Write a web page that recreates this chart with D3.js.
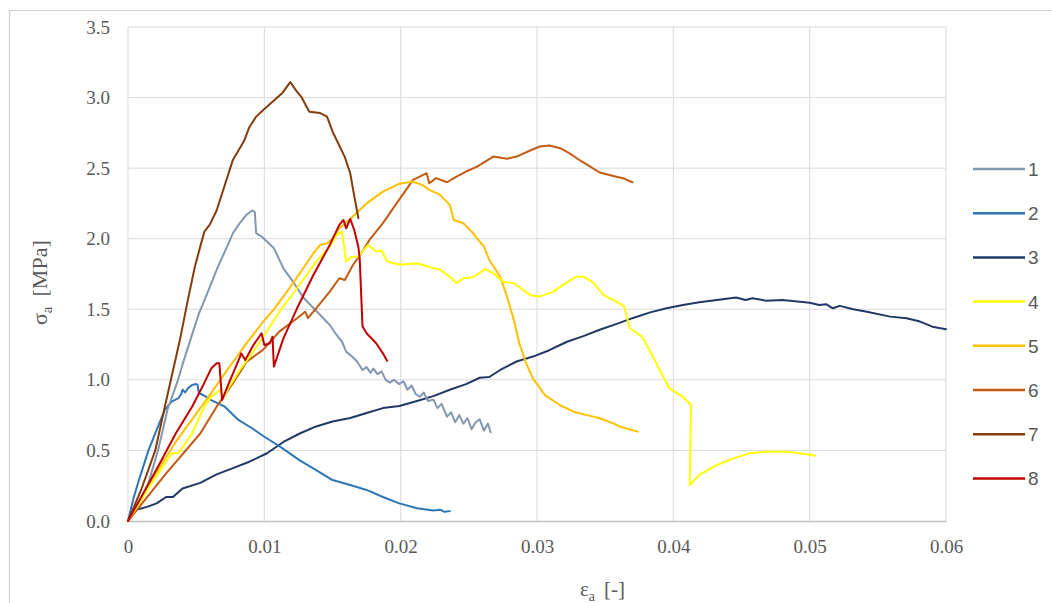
<!DOCTYPE html>
<html><head><meta charset="utf-8">
<script src="https://cdn.jsdelivr.net/npm/d3@7/dist/d3.min.js"></script>
<style>
html,body{margin:0;padding:0;background:#fff;}
svg{display:block;}
</style></head>
<body>
<svg id="chart" width="1052" height="603"></svg>
<script>
// ---- data (strain εa [-], stress σa [MPa]) ----
const seriesNames = ["1","2","3","4","5","6","7","8"];
const seriesColors = ["#8497B0","#2E75B6","#1F3864","#FFFF00","#FFC000","#C55A11","#843C0C","#C00000"];
const xTicks = [0,0.01,0.02,0.03,0.04,0.05,0.06];
const yTicks = [0,0.5,1.0,1.5,2.0,2.5,3.0,3.5];

const s1 = [[0,0],[0.0008,0.12],[0.0015,0.27],[0.0022,0.5],[0.0029,0.79],[0.0036,0.98],[0.0041,1.14],[0.0046,1.29],[0.0052,1.47],[0.0058,1.61],[0.0065,1.78],[0.0072,1.93],[0.0077,2.04],[0.0082,2.11],[0.0087,2.17],[0.0091,2.2],[0.0093,2.19],[0.0094,2.04],[0.0098,2.015],[0.0103,1.97],[0.0107,1.933],[0.0114,1.79],[0.0121,1.696],[0.0129,1.578],[0.0141,1.46],[0.0148,1.389],[0.0153,1.318],[0.0157,1.27],[0.016,1.2],[0.0165,1.16],[0.0168,1.13],[0.0172,1.07],[0.0175,1.09],[0.0178,1.05],[0.018,1.08],[0.0183,1.04],[0.0186,1.06],[0.0189,1.0],[0.0192,0.98],[0.0195,1.0],[0.0199,0.97],[0.0202,0.99],[0.0205,0.93],[0.0208,0.96],[0.0211,0.9],[0.0214,0.88],[0.0217,0.91],[0.022,0.85],[0.0224,0.86],[0.0227,0.8],[0.023,0.83],[0.0234,0.74],[0.0237,0.77],[0.024,0.7],[0.0243,0.75],[0.0246,0.69],[0.0249,0.73],[0.0252,0.65],[0.0255,0.7],[0.0258,0.72],[0.0261,0.64],[0.0264,0.69],[0.0266,0.63]];
const s2 = [[0,0],[0.0004,0.16],[0.0008,0.29],[0.0015,0.5],[0.0022,0.668],[0.0027,0.787],[0.0032,0.846],[0.0037,0.87],[0.0039,0.9],[0.004,0.93],[0.0042,0.91],[0.0044,0.94],[0.0047,0.964],[0.005,0.97],[0.0051,0.965],[0.0052,0.905],[0.0055,0.893],[0.0061,0.857],[0.0071,0.81],[0.0081,0.716],[0.0091,0.657],[0.01,0.597],[0.0111,0.53],[0.0126,0.43],[0.0138,0.36],[0.015,0.29],[0.0163,0.255],[0.0175,0.22],[0.0187,0.17],[0.0199,0.125],[0.0212,0.09],[0.0224,0.075],[0.0229,0.08],[0.0232,0.065],[0.0236,0.07]];
const s3 = [[0,0],[0.0006,0.08],[0.0014,0.1],[0.0021,0.125],[0.0028,0.17],[0.0033,0.17],[0.004,0.23],[0.0053,0.27],[0.0065,0.33],[0.0077,0.375],[0.0089,0.42],[0.0102,0.48],[0.0114,0.56],[0.0126,0.62],[0.0138,0.67],[0.015,0.705],[0.0163,0.73],[0.0175,0.765],[0.0187,0.8],[0.0199,0.815],[0.0212,0.85],[0.0224,0.885],[0.0236,0.93],[0.0248,0.97],[0.0258,1.015],[0.0265,1.02],[0.0273,1.07],[0.0285,1.13],[0.0297,1.165],[0.0309,1.21],[0.0322,1.27],[0.0334,1.31],[0.0346,1.355],[0.0358,1.395],[0.037,1.437],[0.0383,1.478],[0.0395,1.507],[0.0407,1.531],[0.0419,1.55],[0.0432,1.566],[0.0446,1.583],[0.0453,1.566],[0.0458,1.578],[0.0468,1.561],[0.048,1.566],[0.0493,1.554],[0.05,1.547],[0.0507,1.531],[0.0512,1.536],[0.0517,1.507],[0.0522,1.524],[0.0532,1.5],[0.0542,1.483],[0.0559,1.448],[0.0571,1.437],[0.0581,1.413],[0.059,1.377],[0.06,1.359]];
const s4 = [[0,0],[0.0008,0.12],[0.0016,0.25],[0.0028,0.42],[0.0032,0.48],[0.0037,0.48],[0.0047,0.62],[0.0056,0.81],[0.0061,0.88],[0.0066,0.916],[0.0068,0.93],[0.007,0.87],[0.0073,0.93],[0.0082,1.07],[0.0092,1.2],[0.0099,1.3],[0.0111,1.483],[0.0124,1.649],[0.0138,1.838],[0.0148,1.944],[0.0153,2.027],[0.0157,2.05],[0.016,1.838],[0.0164,1.873],[0.0169,1.873],[0.0176,1.956],[0.0182,1.91],[0.0186,1.916],[0.019,1.84],[0.0199,1.815],[0.0212,1.826],[0.0221,1.8],[0.0229,1.78],[0.0236,1.73],[0.0241,1.685],[0.0246,1.72],[0.0253,1.727],[0.0262,1.784],[0.0268,1.755],[0.0275,1.696],[0.0283,1.684],[0.0295,1.6],[0.0302,1.59],[0.0312,1.625],[0.0319,1.673],[0.0329,1.731],[0.0334,1.731],[0.0341,1.69],[0.0349,1.6],[0.0358,1.554],[0.0364,1.52],[0.0368,1.366],[0.0377,1.306],[0.0382,1.22],[0.039,1.07],[0.0397,0.94],[0.0407,0.88],[0.0413,0.822],[0.0412,0.255],[0.0419,0.326],[0.0432,0.397],[0.0444,0.444],[0.0456,0.48],[0.0468,0.491],[0.0483,0.491],[0.0493,0.48],[0.0504,0.463]];
const s5 = [[0,0],[0.001,0.17],[0.002,0.33],[0.0035,0.56],[0.0059,0.88],[0.0075,1.1],[0.0087,1.26],[0.0099,1.41],[0.0107,1.5],[0.0121,1.684],[0.0136,1.897],[0.0141,1.956],[0.0146,1.968],[0.015,2.0],[0.0155,2.074],[0.0163,2.14],[0.0175,2.25],[0.0187,2.334],[0.0199,2.39],[0.0209,2.405],[0.0216,2.38],[0.0221,2.346],[0.0229,2.31],[0.0236,2.24],[0.0239,2.133],[0.0246,2.11],[0.0253,2.04],[0.0261,1.944],[0.0265,1.85],[0.0273,1.731],[0.0278,1.59],[0.0283,1.424],[0.0287,1.26],[0.0292,1.118],[0.0297,1.011],[0.0306,0.89],[0.0317,0.82],[0.0328,0.77],[0.0339,0.745],[0.0346,0.728],[0.0356,0.692],[0.0361,0.668],[0.0374,0.633]];
const s6 = [[0,0],[0.0028,0.337],[0.0053,0.62],[0.0065,0.81],[0.0077,0.976],[0.0087,1.129],[0.0099,1.212],[0.0111,1.342],[0.0124,1.437],[0.013,1.483],[0.0132,1.437],[0.0138,1.507],[0.0148,1.625],[0.0155,1.72],[0.0159,1.708],[0.0165,1.814],[0.017,1.88],[0.0177,1.99],[0.0187,2.11],[0.0197,2.25],[0.0204,2.346],[0.0209,2.417],[0.0214,2.44],[0.0219,2.464],[0.0221,2.393],[0.0226,2.429],[0.0234,2.4],[0.0241,2.44],[0.0248,2.476],[0.0256,2.511],[0.0268,2.582],[0.0278,2.566],[0.0285,2.582],[0.0295,2.625],[0.0302,2.653],[0.0309,2.66],[0.0317,2.641],[0.0324,2.605],[0.0331,2.558],[0.0339,2.511],[0.0346,2.469],[0.0356,2.445],[0.0363,2.429],[0.037,2.4]];
const s7 = [[0,0],[0.001,0.23],[0.002,0.5],[0.0027,0.81],[0.0038,1.28],[0.0044,1.57],[0.0049,1.8],[0.0053,1.944],[0.0056,2.05],[0.006,2.1],[0.0065,2.2],[0.0077,2.56],[0.0085,2.69],[0.0089,2.79],[0.0094,2.865],[0.0099,2.91],[0.0106,2.97],[0.0113,3.03],[0.0119,3.11],[0.0124,3.04],[0.0127,3.007],[0.0133,2.9],[0.0141,2.89],[0.0146,2.865],[0.015,2.76],[0.0159,2.58],[0.0163,2.464],[0.0166,2.3],[0.0169,2.145]];
const s8 = [[0,0],[0.0022,0.385],[0.0035,0.62],[0.0047,0.81],[0.0054,0.94],[0.0061,1.08],[0.0065,1.118],[0.0067,1.118],[0.0069,0.857],[0.0074,0.976],[0.0082,1.16],[0.0083,1.188],[0.0086,1.14],[0.0092,1.247],[0.0098,1.33],[0.01,1.247],[0.0104,1.259],[0.0106,1.306],[0.0107,1.094],[0.0114,1.294],[0.0124,1.507],[0.0136,1.743],[0.0148,1.956],[0.0155,2.098],[0.0158,2.133],[0.016,2.074],[0.0163,2.14],[0.0166,2.06],[0.0169,1.94],[0.017,1.85],[0.0172,1.38],[0.0175,1.33],[0.0182,1.259],[0.0187,1.188],[0.019,1.135]];
const seriesData = [s1,s2,s3,s4,s5,s6,s7,s8];

// ---- drawing ----
const svg = d3.select("#chart");
const W = 1052, H = 603;
const plot = {left:128, right:946, top:27, bottom:521};
const x = d3.scaleLinear().domain([0,0.06]).range([plot.left, plot.right]);
const y = d3.scaleLinear().domain([0,3.5]).range([plot.bottom, plot.top]);

svg.append("rect").attr("width",W).attr("height",H).attr("fill","#fff");
// outer chart border
svg.append("path").attr("d",`M9.5,${H} L9.5,10.5 L${W},10.5`).attr("fill","none").attr("stroke","#D0D0D0").attr("stroke-width",1.2);

// gridlines
const grid = svg.append("g");
grid.selectAll("line.v").data(xTicks.filter(d=>d>0)).join("line")
  .attr("x1",d=>x(d)).attr("x2",d=>x(d)).attr("y1",plot.top).attr("y2",plot.bottom)
  .attr("stroke","#D9D9D9").attr("stroke-width",1);
grid.selectAll("line.h").data(yTicks.filter(d=>d>0)).join("line")
  .attr("x1",plot.left).attr("x2",plot.right).attr("y1",d=>y(d)).attr("y2",d=>y(d))
  .attr("stroke","#D9D9D9").attr("stroke-width",1);
svg.append("line").attr("x1",plot.left).attr("x2",plot.left).attr("y1",plot.top).attr("y2",plot.bottom)
  .attr("stroke","#D9D9D9");

const serif = "'Liberation Serif', 'Times New Roman', serif";
// x axis
const xAxis = d3.axisBottom(x).tickValues(xTicks).tickSize(0).tickPadding(19)
  .tickFormat(d => d===0 ? "0" : d3.format(".2f")(d));
const gx = svg.append("g").attr("transform",`translate(0,${plot.bottom})`).call(xAxis);
gx.select(".domain").attr("stroke","#BFBFBF").attr("stroke-width",1.3);
gx.selectAll("text").attr("font-family",serif).attr("font-size",19).attr("fill","#595959");

// y axis
const yAxis = d3.axisLeft(y).tickValues(yTicks).tickSize(0).tickPadding(18)
  .tickFormat(d3.format(".1f"));
const gy = svg.append("g").attr("transform",`translate(${plot.left},0)`).call(yAxis);
gy.select(".domain").remove();
gy.selectAll("text").attr("font-family",serif).attr("font-size",19).attr("fill","#595959");

// series lines
const line = d3.line().x(d=>x(d[0])).y(d=>y(d[1]));
const drawOrder = [2,1,0,5,4,3,6,7];
svg.append("g").selectAll("path").data(drawOrder).join("path")
  .attr("d",i=>line(seriesData[i]))
  .attr("fill","none").attr("stroke",i=>seriesColors[i])
  .attr("stroke-width",2).attr("stroke-linejoin","round").attr("stroke-linecap","round");

// axis titles
const xt = svg.append("text").attr("x",580).attr("y",596).attr("font-family",serif)
  .attr("font-size",21).attr("fill","#595959");
xt.append("tspan").text("ε");
xt.append("tspan").attr("dy",5).attr("font-size",14).text("a");
xt.append("tspan").attr("dy",-5).attr("dx",9).text("[-]");

const yt = svg.append("text").attr("transform","translate(47,325) rotate(-90)")
  .attr("font-family",serif).attr("font-size",22).attr("fill","#595959");
yt.append("tspan").text("σ");
yt.append("tspan").attr("dy",5).attr("font-size",15).text("a");
yt.append("tspan").attr("dy",-5).attr("dx",10).text("[MPa]");

// legend
const legend = svg.append("g");
const lg = legend.selectAll("g").data(seriesNames).join("g")
  .attr("transform",(d,i)=>`translate(973,${169 + i*44.2})`);
lg.append("line").attr("x1",0).attr("x2",52).attr("y1",0).attr("y2",0)
  .attr("stroke",(d,i)=>seriesColors[i]).attr("stroke-width",2.5);
lg.append("text").attr("x",55).attr("y",7).text(d=>d)
  .attr("font-family","'Liberation Sans', 'Open Sans', sans-serif").attr("font-size",19).attr("fill","#595959");
</script>
</body></html>
